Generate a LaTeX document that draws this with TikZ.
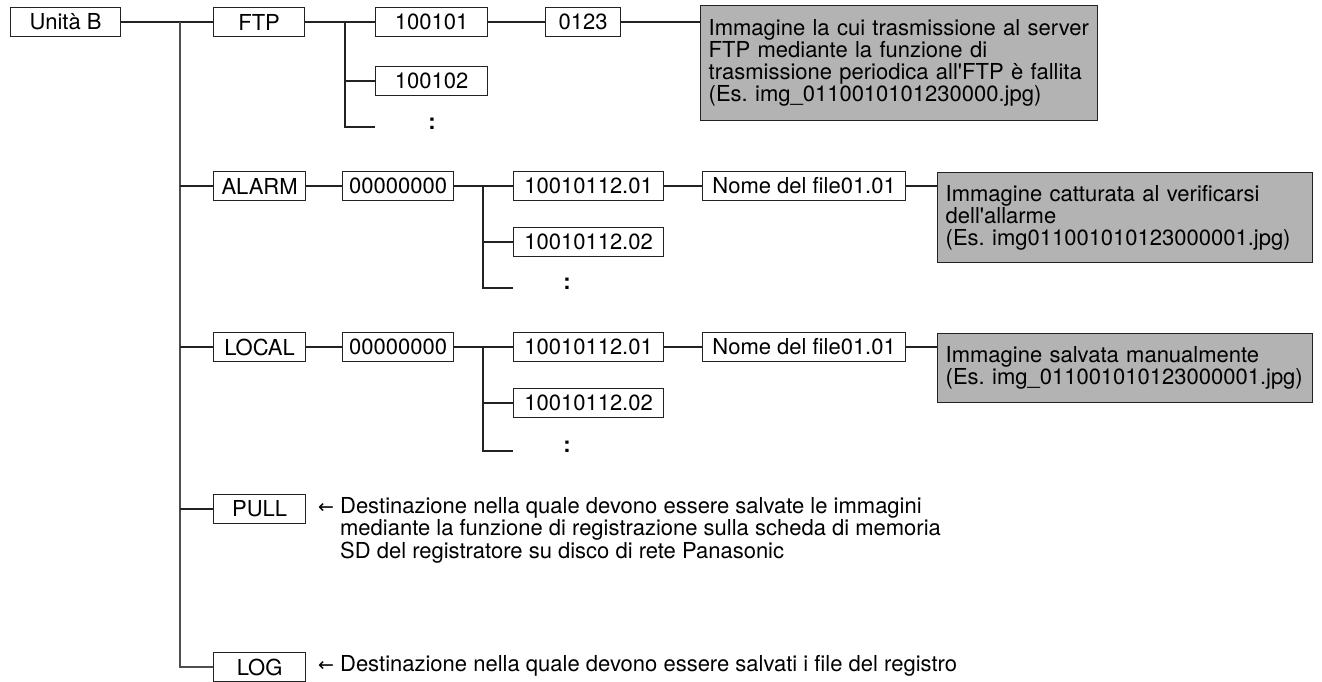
\documentclass[tikz,border=0pt]{standalone}
\usepackage{fontspec}
\setmainfont{TeX Gyre Heros}[Ligatures=TeXOff]
\newfontfamily\symfont{DejaVu Sans}
\definecolor{grayfill}{HTML}{B3B3B3}
\definecolor{edge}{HTML}{222222}
\frenchspacing
\begin{document}
\begin{tikzpicture}[x=1pt,y=-1pt,
  every node/.style={font=\fontsize{22pt}{22pt}\selectfont, text=black},
  fbox/.style={draw=edge, line width=1.2pt, minimum height=29pt, inner sep=0pt, anchor=west},
  gbox/.style={draw=edge, line width=1.4pt, fill=grayfill, anchor=north west, inner xsep=8pt, inner ysep=0pt, align=left},
  conn/.style={draw=edge, line width=1.1pt},
  trunk/.style={draw=edge!80!white, line width=1.7pt},
  dots/.style={inner sep=0pt, font=\fontsize{22pt}{22pt}\selectfont\bfseries},
  note/.style={anchor=north west, inner sep=0pt, align=left}
]
\useasboundingbox (0,0) rectangle (1322,682);

% root
\node[fbox, minimum width=110pt] (unita) at (10,22) {Unità B};

% first level
\node[fbox, minimum width=91pt] (ftp) at (213,22) {FTP};
\node[fbox, minimum width=92pt] (alarm) at (213,186) {ALARM};
\node[fbox, minimum width=92pt] (local) at (213,347) {LOCAL};
\node[fbox, minimum width=92pt] (pull) at (213,509) {PULL};
\node[fbox, minimum width=92pt] (log) at (213,667) {LOG};

% trunk
\coordinate (t0) at (180,22);
\draw[conn] (unita.east) -- (ftp.west);
\draw[trunk] (t0) |- (log.west);
\draw[conn] (t0 |- alarm.west) -- (alarm.west);
\draw[conn] (t0 |- local.west) -- (local.west);
\draw[conn] (t0 |- pull.west) -- (pull.west);

% FTP branch
\node[fbox, minimum width=112pt] (f1) at (375,22) {100101};
\node[fbox, minimum width=112pt] (f2) at (375,81) {100102};
\node[dots] (fdots) at (432,124) {:};
\coordinate (fv) at (345,22);
\coordinate (fend) at (375,127);
\draw[conn] (ftp.east) -- (f1.west);
\draw[conn] (fv) |- (fend);
\draw[conn] (fv |- f2.west) -- (f2.west);
\node[fbox, minimum width=75pt] (f0123) at (545,22) {0123};
\draw[conn] (f1.east) -- (f0123.west);
\node[gbox, minimum width=397pt, minimum height=115pt, text width=381pt] (fnote) at (700,5)
  {Immagine la cui trasmissione al server\\FTP mediante la funzione di\\trasmissione periodica all'FTP è fallita\\(Es. img\_0110010101230000.jpg)};
\draw[conn] (f0123.east) -- (f0123.east -| fnote.west);

% ALARM branch
\node[fbox, minimum width=111pt] (a0) at (342,186) {00000000};
\node[fbox, minimum width=150pt] (a1) at (513,186) {10010112.01};
\node[fbox, minimum width=150pt] (a2) at (513,242) {10010112.02};
\node[dots] (adots) at (567,284) {:};
\coordinate (av) at (483,186);
\coordinate (aend) at (513,288);
\draw[conn] (alarm.east) -- (a0.west);
\draw[conn] (a0.east) -- (a1.west);
\draw[conn] (av) |- (aend);
\draw[conn] (av |- a2.west) -- (a2.west);
\node[fbox, minimum width=203pt] (afile) at (702,186) {Nome del file01.01};
\draw[conn] (a1.east) -- (afile.west);
\node[gbox, minimum width=375pt, minimum height=90pt, text width=359pt] (anote) at (937,172)
  {Immagine catturata al verificarsi\\dell'allarme\\(Es. img011001010123000001.jpg)};
\draw[conn] (afile.east) -- (afile.east -| anote.west);

% LOCAL branch
\node[fbox, minimum width=111pt] (l0) at (342,347) {00000000};
\node[fbox, minimum width=150pt] (l1) at (513,347) {10010112.01};
\node[fbox, minimum width=150pt] (l2) at (513,403) {10010112.02};
\node[dots] (ldots) at (567,447) {:};
\coordinate (lv) at (483,347);
\coordinate (lend) at (513,451);
\draw[conn] (local.east) -- (l0.west);
\draw[conn] (l0.east) -- (l1.west);
\draw[conn] (lv) |- (lend);
\draw[conn] (lv |- l2.west) -- (l2.west);
\node[fbox, minimum width=203pt] (lfile) at (702,347) {Nome del file01.01};
\draw[conn] (l1.east) -- (lfile.west);
\node[gbox, minimum width=375pt, minimum height=69pt, text width=359pt] (lnote) at (937,333)
  {Immagine salvata manualmente\\(Es. img\_011001010123000001.jpg)};
\draw[conn] (lfile.east) -- (lfile.east -| lnote.west);

% notes
\node[note] (pnote) at (318,497)
  {\begin{tabular}{@{}l@{\hspace{6pt}}l@{}}{\symfont\fontsize{19pt}{22pt}\selectfont ←} & Destinazione nella quale devono essere salvate le immagini\\
   & mediante la funzione di registrazione sulla scheda di memoria\\
   & SD del registratore su disco di rete Panasonic\end{tabular}};
\node[note] (lognote) at (318,655)
  {{\symfont\fontsize{19pt}{22pt}\selectfont ←}\hspace{6pt}Destinazione nella quale devono essere salvati i file del registro};
\end{tikzpicture}
\end{document}
